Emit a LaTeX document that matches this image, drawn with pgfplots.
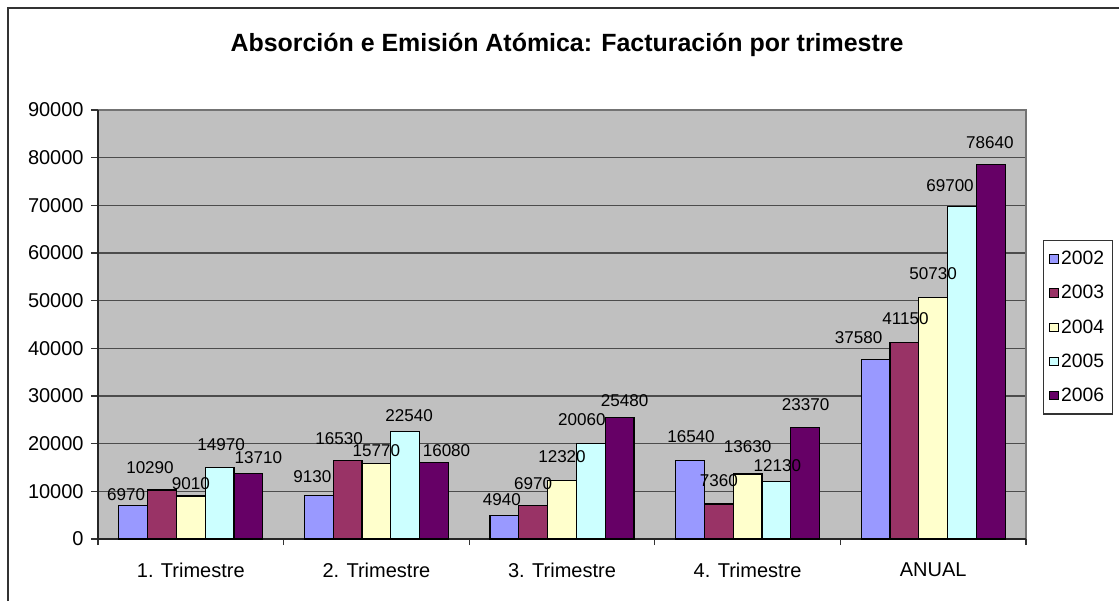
\documentclass[border=0pt]{standalone}
\usepackage{pgfplots}
\pgfplotsset{compat=1.18}
\usepackage{fontspec}
\setmainfont{Liberation Sans}
\definecolor{c02}{HTML}{9999FF}
\definecolor{c03}{HTML}{993366}
\definecolor{c04}{HTML}{FFFFCC}
\definecolor{c05}{HTML}{CCFFFF}
\definecolor{c06}{HTML}{660066}
\definecolor{plotbg}{HTML}{C0C0C0}
\begin{document}
\begin{tikzpicture}[x=0.75pt,y=0.75pt]
\path[use as bounding box] (0,0) rectangle (1119,601);
\draw[black!80, line width=0.9pt] (8,0) -- (8,593) -- (1119,593);
\node[font=\bfseries\fontsize{18.7}{22}\selectfont] at (567,556) {Absorción e Emisión Atómica: Facturación por trimestre};
\begin{axis}[
  at={(73.5pt,46.5pt)}, anchor=south west,
  scale only axis, width=696pt, height=321.75pt,
  ybar=0pt, bar width=21.6pt,
  xmin=-0.5, xmax=4.5, ymin=0, ymax=90000,
  xtick={0,1,2,3,4},
  xticklabels={1. Trimestre,2. Trimestre,3. Trimestre,4. Trimestre,ANUAL},
  minor xtick={-0.5,0.5,1.5,2.5,3.5,4.5},
  major x tick style={draw=none},
  xtick pos=bottom, ytick pos=left,
  ytick={0,10000,...,90000},
  tick align=outside, major tick length=5.25pt, minor tick length=4.5pt,
  tick style={black!80, line width=0.8pt},
  ymajorgrids, grid style={black!70, line width=0.8pt},
  axis background/.style={fill=plotbg},
  axis line style={draw=none},
  /pgf/number format/1000 sep={},
  /pgf/number format/assume math mode=true,
  scaled y ticks=false,
  tick label style={font=\fontsize{15}{17}\selectfont},
  xticklabel style={yshift=-9pt},
  yticklabel style={xshift=-2pt},
  visualization depends on={\thisrow{dx} \as \dx},
  visualization depends on={\thisrow{dy} \as \dy},
  nodes near coords,
  every node near coord/.append style={font=\fontsize{12.8}{15}\selectfont, black, inner sep=0pt,
    xshift={\dx*0.75pt}, yshift={\dy*0.75pt+0.5pt}},
  legend style={at={(1.0185,0.697)}, anchor=north west, draw=black!80, line width=0.8pt,
    font=\fontsize{14.5}{17}\selectfont, row sep=10pt, inner xsep=4pt, inner ysep=6pt,
    cells={anchor=west}},
  legend image code/.code={\draw[#1, line width=0.6pt] (0pt,-3.2pt) rectangle (6.5pt,3.2pt);},
  clip=false,
]
\draw[black!55, line width=1.2pt] (rel axis cs:0,1) -- (rel axis cs:1,1) -- (rel axis cs:1,0);
\draw[black!85, line width=1pt] (rel axis cs:1,0) -- (rel axis cs:0,0) -- (rel axis cs:0,1);
\addplot[fill=c02, draw=black, line width=0.9pt] table {
x y dx dy
0 6970 -7 4
1 9130 -6.5 12
2 4940 -2.5 9
3 16540 1 16
4 37580 -17 15
};
\addplot[fill=c03, draw=black, line width=0.9pt] table {
x y dx dy
0 10290 -12 15
1 16530 -8.5 14
2 6970 0 15
3 7360 0 16
4 41150 1 17
};
\addplot[fill=c04, draw=black, line width=0.9pt] table {
x y dx dy
0 9010 0 5
1 15770 0 6
2 12320 0 16
3 13630 0 20
4 50730 0 16
};
\addplot[fill=c05, draw=black, line width=0.9pt] table {
x y dx dy
0 14970 1.5 16
1 22540 4 9
2 20060 -9 16
3 12130 1 8
4 69700 -12 14
};
\addplot[fill=c06, draw=black, line width=0.9pt] table {
x y dx dy
0 13710 10 9
1 16080 12.5 4
2 25480 5 10
3 23370 0.5 16
4 78640 -1 14
};
\legend{2002,2003,2004,2005,2006}
\end{axis}
\end{tikzpicture}
\end{document}
